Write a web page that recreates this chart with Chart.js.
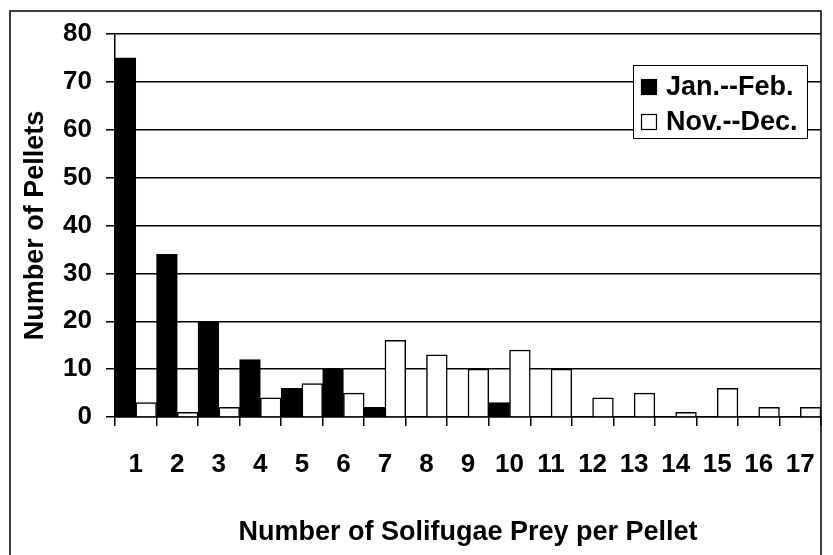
<!DOCTYPE html>
<html>
<head>
<meta charset="utf-8">
<script src="https://cdn.jsdelivr.net/npm/chart.js@4"></script>
<style>
  html, body { margin: 0; padding: 0; background: #fff; }
  #wrap { width: 833px; height: 555px; }
</style>
</head>
<body>
<div id="wrap"><canvas id="pelletChart" width="833" height="555"></canvas></div>
<script>
// values
const preyCounts = ['1', '2', '3', '4', '5', '6', '7', '8', '9', '10', '11', '12', '13', '14', '15', '16', '17'];
const janFeb = [75, 34, 20, 12, 6, 10, 2, 0, 0, 3, 0, 0, 0, 0, 0, 0, 0];
const novDec = [3, 1, 2, 4, 7, 5, 16, 13, 10, 14, 10, 4, 5, 1, 6, 2, 2];
const seriesNames = ['Jan.--Feb.', 'Nov.--Dec.'];
const yTicks = [0, 10, 20, 30, 40, 50, 60, 70, 80];

const FONT = '"Liberation Sans", Arial, sans-serif';

// outer frame + boxed legend sitting inside the plot
const framePlugin = {
    id: 'frameAndLegend',
    afterDraw(chart) {
        const ctx = chart.ctx;
        const area = chart.chartArea;
        ctx.save();
        ctx.strokeStyle = '#000';
        ctx.lineWidth = 1.5;
        ctx.beginPath();
        ctx.moveTo(10, 560);
        ctx.lineTo(10, 11);
        ctx.lineTo(area.right, 11);
        ctx.lineTo(area.right, 560);
        ctx.stroke();

        // legend box
        const bx = 633, by = 65, bw = 174, bh = 73;
        ctx.fillStyle = '#fff';
        ctx.fillRect(bx, by, bw, bh);
        ctx.lineWidth = 1;
        ctx.strokeRect(bx + 0.5, by + 0.5, bw, bh);
        ctx.font = 'bold 27px ' + FONT;
        ctx.textBaseline = 'middle';
        chart.data.datasets.forEach((ds, i) => {
            const cy = by + 22 + i * 35;
            ctx.fillStyle = ds.backgroundColor;
            ctx.fillRect(bx + 8, cy - 8, 16, 16);
            ctx.lineWidth = 1.2;
            ctx.strokeStyle = '#000';
            ctx.strokeRect(bx + 8.5, cy - 7.5, 15, 15);
            ctx.fillStyle = '#000';
            ctx.fillText(ds.label, bx + 33, cy + 1);
        });
        ctx.restore();
    }
};

new Chart(document.getElementById('pelletChart'), {
    type: 'bar',
    data: {
        labels: preyCounts,
        datasets: [{
            label: seriesNames[0],
            data: janFeb,
            backgroundColor: '#000',
            borderColor: '#000',
            borderWidth: 1.5
        }, {
            label: seriesNames[1],
            data: novDec,
            backgroundColor: '#fff',
            borderColor: '#000',
            borderWidth: 1.5
        }]
    },
    options: {
        responsive: false,
        animation: false,
        layout: { padding: { left: 0, right: 12, top: 34, bottom: 0 } },
        datasets: { bar: { barPercentage: 1, categoryPercentage: 1 } },
        plugins: {
            legend: { display: false },
            tooltip: { enabled: false }
        },
        scales: {
            x: {
                afterFit(scale) {
                    scale.height = 138;
                    scale.paddingLeft = 0;
                    scale.paddingRight = 0;
                },
                grid: {
                    offset: true,
                    drawOnChartArea: false,
                    drawTicks: true,
                    tickLength: 9,
                    color: '#000',
                    lineWidth: 1.5
                },
                border: { color: '#000', width: 1.5 },
                ticks: {
                    color: '#000',
                    font: { family: FONT, size: 26, weight: 'bold' },
                    padding: 23,
                    maxRotation: 0,
                    autoSkip: false
                },
                title: {
                    display: true,
                    text: 'Number of Solifugae Prey per Pellet',
                    color: '#000',
                    font: { family: FONT, size: 27, weight: 'bold' },
                    padding: { top: 0, bottom: 6 }
                }
            },
            y: {
                min: 0,
                max: 80,
                afterFit(scale) { scale.width = 115; },
                afterBuildTicks(scale) { scale.ticks = yTicks.map(v => ({ value: v })); },
                grid: {
                    color: '#000',
                    lineWidth: 1.5,
                    tickLength: 9
                },
                border: { color: '#000', width: 1.5 },
                ticks: {
                    color: '#000',
                    font: { family: FONT, size: 26, weight: 'bold' },
                    padding: 14
                },
                title: {
                    display: true,
                    text: 'Number of Pellets',
                    color: '#000',
                    font: { family: FONT, size: 27, weight: 'bold' },
                    padding: { top: 19, bottom: 0 }
                }
            }
        }
    },
    plugins: [framePlugin]
});
</script>
</body>
</html>
